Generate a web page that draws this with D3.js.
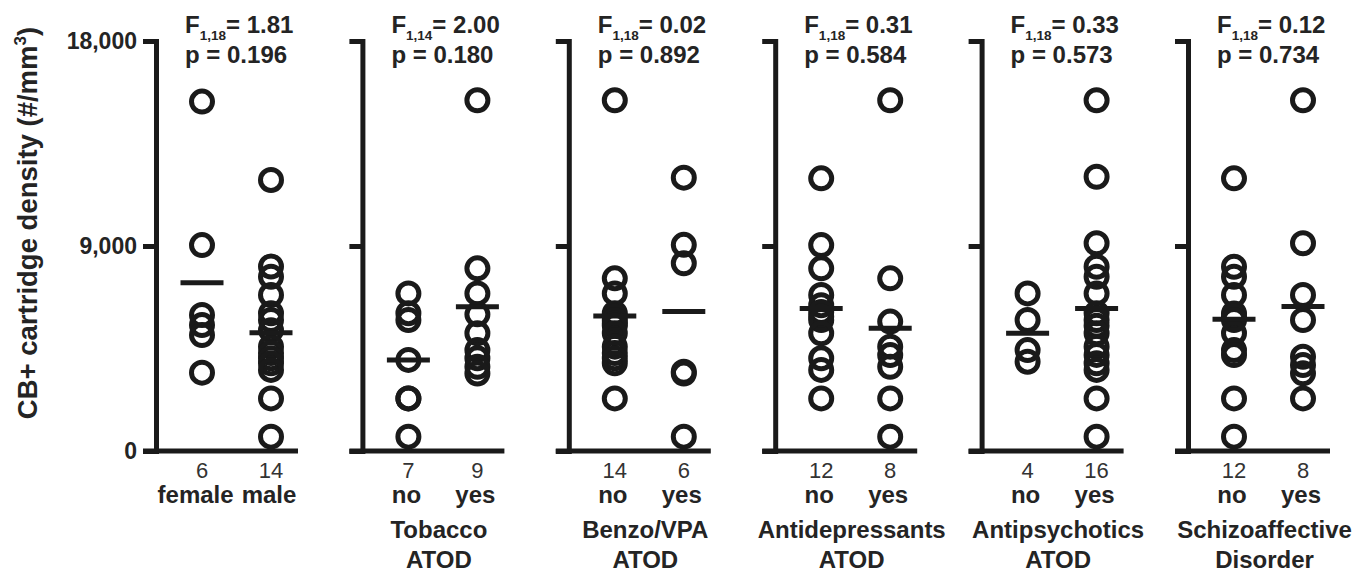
<!DOCTYPE html>
<html>
<head>
<meta charset="utf-8">
<script src="https://cdn.jsdelivr.net/npm/d3@7"></script>
<style>
  body { margin: 0; background: #fff; }
  svg { display: block; font-family: Arial, "Liberation Sans", sans-serif; }
</style>
</head>
<body>
<svg id="chart" width="1358" height="572"></svg>
<script>
// panel text
const groupNames = [['female', 'male'], ['no', 'yes'], ['no', 'yes'], ['no', 'yes'], ['no', 'yes'], ['no', 'yes']];
const groupCounts = [[6, 14], [7, 9], [14, 6], [12, 8], [4, 16], [12, 8]];
const panelTitles = [[], ['Tobacco', 'ATOD'], ['Benzo/VPA', 'ATOD'], ['Antidepressants', 'ATOD'], ['Antipsychotics', 'ATOD'], ['Schizoaffective', 'Disorder']];
const fDegrees = ['1,18', '1,14', '1,18', '1,18', '1,18', '1,18'];
const fValues = ['1.81', '2.00', '0.02', '0.31', '0.33', '0.12'];
const pValues = ['0.196', '0.180', '0.892', '0.584', '0.573', '0.734'];
const yTicks = [0, 9000, 18000];

// CB+ cartridge density per subject (#/mm3)
const sexDensity = [
  [15340, 9040, 5970, 5530, 5090, 3440],
  [11900, 8100, 7650, 6850, 6050, 5750, 5300, 4580, 4300, 4070, 3850, 3560, 2310, 630]
];
const tobaccoDensity = [
  [6920, 6050, 5750, 4000, 2310, 2310, 630],
  [15400, 8020, 6920, 6000, 5170, 4430, 4070, 3700, 3400]
];
const benzoDensity = [
  [15400, 7580, 6920, 6050, 5900, 5750, 5600, 5500, 5170, 4580, 4300, 4070, 3850, 2310],
  [12000, 9050, 8240, 3480, 3400, 630]
];
const antidepressantDensity = [
  [11970, 9040, 8020, 6850, 6400, 6100, 5900, 5750, 5170, 4070, 3560, 2310],
  [15400, 7580, 5680, 4580, 4210, 3700, 2310, 630]
];
const antipsychoticDensity = [
  [6920, 5750, 4430, 3920],
  [15400, 12040, 9120, 8090, 7650, 6920, 6050, 5750, 5500, 5170, 4580, 4220, 3850, 3560, 2310, 630]
];
const schizoaffectiveDensity = [
  [11970, 8090, 7650, 6850, 6040, 5900, 5750, 5170, 4430, 4210, 2310, 630],
  [15400, 9120, 6850, 5750, 4140, 3775, 3410, 2310]
];
// group means (horizontal bars)
const groupMeans = [[7390, 5195], [3995, 6330], [5930, 6120], [6260, 5385], [5170, 6260], [5780, 6340]];

const panelData = [sexDensity, tobaccoDensity, benzoDensity, antidepressantDensity, antipsychoticDensity, schizoaffectiveDensity];

const ink = '#1a1a1a';
const textInk = '#242424';
const svg = d3.select('#chart');

const y = d3.scaleLinear().domain([0, 18000]).range([451, 41]);

// y axis title
const title = svg.append('text')
  .attr('transform', 'translate(37,223) rotate(-90)')
  .attr('text-anchor', 'middle')
  .style('font-size', '27.5px')
  .style('font-weight', 'bold')
  .style('fill', textInk);
title.append('tspan').text('CB+ cartridge density (#/mm');
title.append('tspan').text('3').attr('dy', -11).style('font-size', '17px');
title.append('tspan').text(')').attr('dy', 11);

panelData.forEach(function (groups, i) {
  const axisX = 156 + i * 206.4;
  const g = svg.append('g').attr('transform', `translate(${axisX},0)`);

  const x = d3.scalePoint().domain([0, 1]).range([46, 115]);

  // left axis
  const axis = d3.axisLeft(y)
    .tickValues(yTicks)
    .tickSize(13)
    .tickSizeOuter(0)
    .tickPadding(6)
    .tickFormat(i === 0 ? d3.format(',') : () => '');
  const ax = g.append('g').call(axis);
  ax.select('.domain').attr('stroke', ink).attr('stroke-width', 5).attr('stroke-linecap', 'square');
  ax.selectAll('.tick line').attr('stroke', ink).attr('stroke-width', 5);
  ax.selectAll('.tick text')
    .style('font-size', '23px')
    .style('font-weight', 'bold')
    .style('font-family', 'Arial, "Liberation Sans", sans-serif')
    .attr('fill', textInk);

  // baseline
  g.append('line')
    .attr('x1', -13).attr('x2', 142)
    .attr('y1', y(0)).attr('y2', y(0))
    .attr('stroke', ink).attr('stroke-width', 5);

  // points
  groups.forEach(function (vals, k) {
    g.selectAll(null)
      .data(vals)
      .enter()
      .append('circle')
      .attr('cx', x(k))
      .attr('cy', d => y(d))
      .attr('r', 10.5)
      .attr('fill', 'none')
      .attr('stroke', ink)
      .attr('stroke-width', 5);
  });

  // mean bars
  g.selectAll(null)
    .data(groupMeans[i])
    .enter()
    .append('line')
    .attr('x1', (d, k) => x(k) - 21.5)
    .attr('x2', (d, k) => x(k) + 21.5)
    .attr('y1', d => y(d))
    .attr('y2', d => y(d))
    .attr('stroke', ink)
    .attr('stroke-width', 5);

  // statistics
  const fText = g.append('text')
    .attr('x', 29).attr('y', 33)
    .style('font-size', '24px')
    .style('font-weight', 'bold')
    .style('fill', textInk);
  fText.append('tspan').text('F');
  fText.append('tspan').text(fDegrees[i]).attr('dy', 6.5).style('font-size', '13.5px');
  fText.append('tspan').text('= ' + fValues[i]).attr('dy', -6.5);

  g.append('text')
    .attr('x', 29).attr('y', 63)
    .style('font-size', '24px')
    .style('font-weight', 'bold')
    .style('fill', textInk)
    .text('p = ' + pValues[i]);

  // group counts and names
  const names = [];
  groupCounts[i].forEach(function (n, k) {
    g.append('text')
      .attr('x', x(k)).attr('y', 478)
      .attr('text-anchor', 'middle')
      .style('font-size', '22px')
      .style('fill', '#333')
      .text(n);
    names.push(g.append('text')
      .attr('x', x(k) - 2).attr('y', 503)
      .attr('text-anchor', 'middle')
      .style('font-size', '24px')
      .style('font-weight', 'bold')
      .style('fill', textInk)
      .text(groupNames[i][k]));
  });
  // push a wide left label away from its neighbour
  const w0 = names[0].node().getComputedTextLength();
  const w1 = names[1].node().getComputedTextLength();
  const overlap = (x(0) - 2 + w0 / 2) - (x(1) - 2 - w1 / 2) + 8;
  if (overlap > 0) names[0].attr('x', x(0) - 2 - overlap);

  panelTitles[i].forEach(function (line, j) {
    g.append('text')
      .attr('x', (x(0) + x(1)) / 2 - 4)
      .attr('y', 538 + j * 30)
      .attr('text-anchor', 'middle')
      .style('font-size', '24px')
      .style('font-weight', 'bold')
      .style('fill', textInk)
      .text(line);
  });
});
</script>
</body>
</html>
